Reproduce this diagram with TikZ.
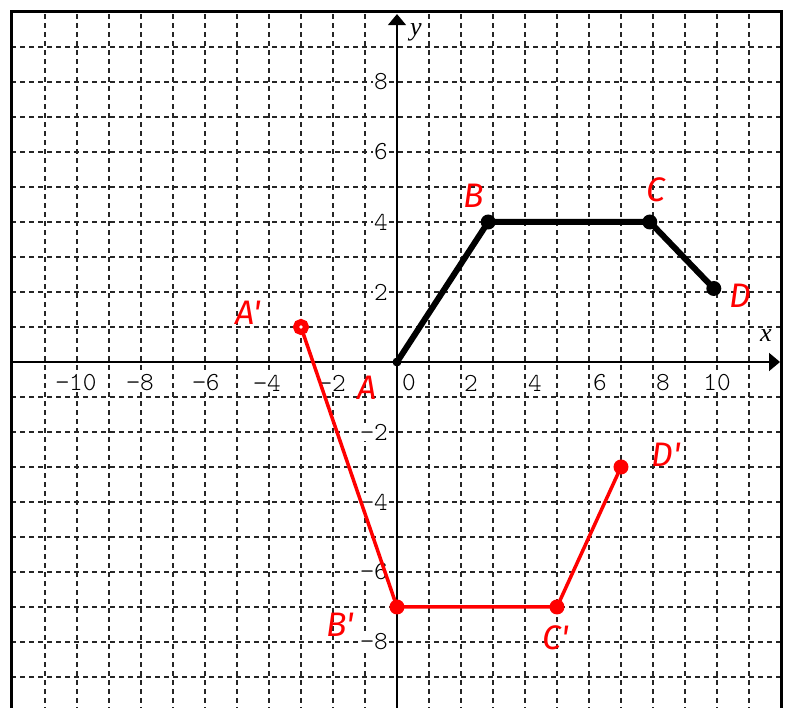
\documentclass[tikz,border=0pt]{standalone}
\usepackage{fontspec}
\setmainfont{Liberation Serif}
\newfontfamily\monofont{Latin Modern Mono Light}
\newfontfamily\handfont{Fira Sans}
\usetikzlibrary{arrows.meta}
\begin{document}
\begin{tikzpicture}[x=32pt,y=35pt,
  gridline/.style={line width=1.4pt, dash pattern=on 5pt off 4pt, black!85},
  axisline/.style={line width=1.6pt, -{Triangle[length=11pt,width=18pt]}},
  ticklabel/.style={font=\monofont\fontsize{26}{26}\selectfont, fill=white, inner sep=1pt},
  axisname/.style={font=\itshape\fontsize{26}{26}\selectfont, inner sep=0pt},
  handlabel/.style={text=red, font=\handfont\itshape\fontsize{34}{34}\selectfont, inner sep=0pt},
  blackseg/.style={line width=6pt, line cap=round, line join=round},
  redseg/.style={red, line width=3.5pt, line cap=round, line join=round},
  bdot/.style={circle, fill=black, inner sep=0pt, minimum size=15pt},
  rdot/.style={circle, fill=red, inner sep=0pt, minimum size=15pt},
  rring/.style={circle, draw=red, line width=6pt, fill=white, inner sep=0pt, minimum size=10pt},
]
\useasboundingbox (-12.40625,-9.885714) rectangle (12.21875,10.342857);
\fill[white] (-12.40625,-9.885714) rectangle (12.21875,10.342857);
% grid
\foreach \x in {-11,...,-1,1,2,...,11} \draw[gridline] (\x,-10) -- (\x,10);
\foreach \y in {-9,...,-1,1,2,...,9} \draw[gridline] (-12.06,\y) -- (12,\y);
% frame
\draw[line width=3pt] (-12.06,-10.2) -- (-12.06,10) -- (12,10) -- (12,-10.2);
% axes
\coordinate (xl) at (-12.06,0);
\coordinate (xr) at (11.97,0);
\coordinate (yb) at (0,-10.2);
\coordinate (yt) at (0,9.94);
\draw[axisline] (xl) -- (xr);
\draw[axisline] (yb) -- (yt);
\node[axisname] (xname) at (11.53,0.77) {x};
\node[axisname] (yname) at (0.59,9.43) {y};
% x tick labels
\node[ticklabel] (lxm10) at (-10.03,-0.6) {−10};
\node[ticklabel] (lxm8) at (-8.03,-0.6) {−8};
\node[ticklabel] (lxm6) at (-5.97,-0.6) {−6};
\node[ticklabel] (lxm4) at (-4.06,-0.6) {−4};
\node[ticklabel] (lxm2) at (-2.03,-0.6) {−2};
\node[ticklabel] (lx0) at (0.375,-0.6) {0};
\node[ticklabel] (lx2) at (2.31,-0.6) {2};
\node[ticklabel] (lx4) at (4.31,-0.6) {4};
\node[ticklabel] (lx6) at (6.34,-0.6) {6};
\node[ticklabel] (lx8) at (8.31,-0.6) {8};
\node[ticklabel] (lx10) at (10.0,-0.6) {10};
% y tick labels
\foreach \v/\t/\n in {8/8/a,6/6/b,4/4/c,2/2/d,-2/−2/e,-4/−4/f,-6/−6/g,-8/−8/h}
  \node[ticklabel, anchor=east] (ly\n) at (-0.25,\v) {\t};
% black figure
\node[bdot, minimum size=9pt] (O) at (0,0) {};
\node[bdot] (B) at (2.85,4) {};
\node[bdot] (C) at (7.9,4) {};
\node[bdot] (D) at (9.9,2.1) {};
\draw[blackseg] (O.center) -- (B.center) -- (C.center) -- (D.center);
% red figure
\node[rring] (Ap) at (-3,1) {};
\node[rdot] (Bp) at (0,-7) {};
\node[rdot] (Cp) at (5,-7) {};
\node[rdot] (Dp) at (7,-3) {};
\draw[redseg] (Ap) -- (Bp.center) -- (Cp.center) -- (Dp.center);
% handwritten labels
\node[handlabel] (tAp) at (-4.66,1.4) {A'};
\node[handlabel] (tA) at (-0.94,-0.74) {A};
\node[handlabel] (tB) at (2.41,4.74) {B};
\node[handlabel] (tC) at (8.09,4.91) {C};
\node[handlabel] (tD) at (10.72,1.89) {D};
\node[handlabel] (tBp) at (-1.78,-7.51) {B'};
\node[handlabel] (tCp) at (4.97,-7.89) {C'};
\node[handlabel] (tDp) at (8.41,-2.66) {D'};
\end{tikzpicture}
\end{document}
